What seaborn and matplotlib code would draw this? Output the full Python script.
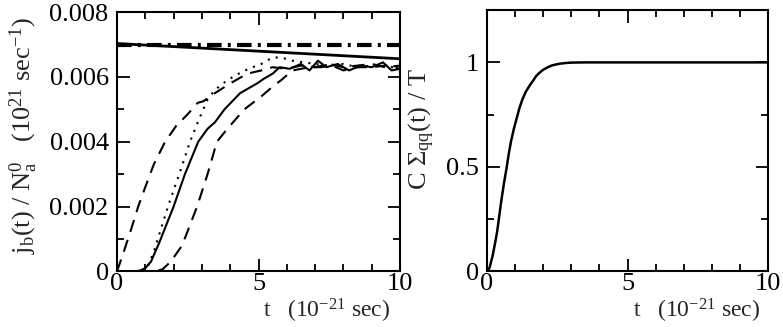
import numpy as np
import matplotlib
matplotlib.use("Agg")
import matplotlib.pyplot as plt
from matplotlib.ticker import MultipleLocator
import seaborn as sns

# left panel: j_b(t)/N_a^0, values in units of 1e-3
flat_t = [0, 10]
flat_dashdot = [7.00, 7.00]
flat_solid = [7.03, 6.56]

a_t = [0, 0.2, 0.5, 0.75, 1.0, 1.3, 1.7, 2.1, 2.5, 2.85, 3.05, 3.46, 4.0, 4.6, 5.1, 5.5, 6.0, 6.5, 7.0, 7.5, 8.0, 8.5, 9.0, 9.5, 10]
a_y = [0, 0.5, 1.3, 2.0, 2.6, 3.3, 4.0, 4.5, 4.85, 5.2, 5.25, 5.5, 5.8, 6.1, 6.2, 6.3, 6.25, 6.35, 6.3, 6.4, 6.3, 6.35, 6.4, 6.3, 6.35]

b_t = [0, 0.5, 0.8, 1.06, 1.3, 1.55, 1.8, 2.2, 2.58, 2.9, 3.2, 3.46, 3.9, 4.4, 4.8, 5.1, 5.5, 5.8, 6.2, 6.6, 7.0, 7.5, 8.0, 8.5, 9.0, 9.5, 10]
b_y = [0, 0, 0.0, 0.1, 0.6, 1.3, 2.0, 3.0, 4.0, 4.7, 5.3, 5.6, 5.9, 6.15, 6.3, 6.4, 6.6, 6.6, 6.5, 6.45, 6.4, 6.35, 6.4, 6.3, 6.35, 6.3, 6.3]

c_t = [0, 0.5, 0.8, 1.0, 1.2, 1.5, 2.0, 2.4, 2.87, 3.2, 3.46, 3.8, 4.35, 4.95, 5.2, 5.5, 5.75, 6.1, 6.5, 6.8, 7.1, 7.4, 7.8, 8.2, 8.6, 9.0, 9.4, 9.7, 10]
c_y = [0, 0, 0.02, 0.1, 0.3, 0.9, 2.0, 3.0, 4.0, 4.4, 4.6, 5.0, 5.5, 5.8, 5.95, 6.1, 6.3, 6.25, 6.4, 6.2, 6.5, 6.3, 6.4, 6.2, 6.35, 6.3, 6.45, 6.2, 6.25]

d_t = [0, 1.0, 1.3, 1.6, 1.9, 2.3, 2.83, 3.2, 3.53, 3.9, 4.5, 5.1, 5.5, 5.8, 6.2, 6.8, 7.2, 7.6, 8.0, 8.5, 9.0, 9.5, 10]
d_y = [0, 0, 0.01, 0.06, 0.3, 0.8, 2.0, 3.0, 4.0, 4.4, 5.0, 5.4, 5.7, 5.9, 6.2, 6.3, 6.3, 6.35, 6.2, 6.3, 6.3, 6.35, 6.25]

# right panel: C Sigma_qq(t) / T
r_t = [0, 0.05, 0.1, 0.15, 0.2, 0.25, 0.3, 0.36, 0.43, 0.5, 0.6, 0.69, 0.77, 0.85, 0.95, 1.05, 1.15, 1.25, 1.38, 1.52, 1.65, 1.75, 1.88, 2.0, 2.15, 2.3, 2.45, 2.6, 2.8, 3.0, 3.5, 4.0, 10]
r_y = [0, 0.006, 0.022, 0.05, 0.075, 0.11, 0.145, 0.19, 0.26, 0.33, 0.42, 0.49, 0.56, 0.62, 0.68, 0.73, 0.78, 0.82, 0.86, 0.89, 0.915, 0.935, 0.952, 0.965, 0.976, 0.985, 0.99, 0.994, 0.997, 0.999, 1.0, 1.0, 1.0]

sns.set_style("ticks")
plt.rcParams["font.family"] = ["Liberation Serif", "DejaVu Serif"]
plt.rcParams["mathtext.fontset"] = "custom"
plt.rcParams["mathtext.rm"] = "Liberation Serif"
plt.rcParams["mathtext.it"] = "Liberation Serif:italic"
fs = 19

fig = plt.figure(figsize=(7.83, 3.27), dpi=100)
ax1 = fig.add_axes([0.1494, 0.17, 0.3615, 0.793])
ax2 = fig.add_axes([0.622, 0.17, 0.359, 0.799])

k = "black"
sc = 1e-3
sns.lineplot(x=flat_t, y=np.array(flat_dashdot) * sc, ax=ax1, color=k, lw=3,
             linestyle=(0, (3.5, 1.5, 0.7, 1.5)))
sns.lineplot(x=flat_t, y=np.array(flat_solid) * sc, ax=ax1, color=k, lw=2)
sns.lineplot(x=a_t, y=np.array(a_y) * sc, ax=ax1, color=k, lw=1.5, linestyle=(0, (6, 4)))
sns.lineplot(x=b_t, y=np.array(b_y) * sc, ax=ax1, color=k, lw=1.5, linestyle=(0, (1, 3)))
sns.lineplot(x=c_t, y=np.array(c_y) * sc, ax=ax1, color=k, lw=1.5)
sns.lineplot(x=d_t, y=np.array(d_y) * sc, ax=ax1, color=k, lw=1.5, linestyle=(0, (6, 4)))

sns.lineplot(x=r_t, y=r_y, ax=ax2, color=k, lw=1.8)

ax1.set_xlim(0, 10)
ax1.set_ylim(0, 0.008)
ax1.xaxis.set_major_locator(MultipleLocator(5))
ax1.xaxis.set_minor_locator(MultipleLocator(1))
ax1.set_yticks([0, 0.002, 0.004, 0.006, 0.008])
ax1.set_yticklabels(["0", "0.002", "0.004", "0.006", "0.008"])
ax1.yaxis.set_minor_locator(MultipleLocator(0.001))

ax2.set_xlim(0, 10)
ax2.set_ylim(0, 1.25)
ax2.xaxis.set_major_locator(MultipleLocator(5))
ax2.xaxis.set_minor_locator(MultipleLocator(1))
ax2.set_yticks([0, 0.5, 1.0])
ax2.set_yticklabels(["0", "0.5", "1"])
ax2.yaxis.set_minor_locator(MultipleLocator(0.25))

for ax in (ax1, ax2):
    for s in ax.spines.values():
        s.set_linewidth(1.5)
        s.set_color(k)
    ax.tick_params(which="both", direction="in", top=True, right=True, colors=k,
                   labelsize=fs, width=1.3)
    ax.tick_params(axis="y", pad=6)
    ax.tick_params(axis="x", pad=1)
    ax.tick_params(which="major", length=9)
    ax.tick_params(which="minor", length=5)
    ax.set_xlabel(r"t   (10$^{-21}$ sec)", fontsize=17, ha="right")

ax1.xaxis.set_label_coords(0.965, -0.098)
ax2.xaxis.set_label_coords(0.972, -0.098)

ax1.set_ylabel(r"j$_\mathrm{b}$(t) / N$_\mathrm{a}^\mathrm{0}$   (10$^\mathrm{21}$ sec$^\mathrm{-1}$)",
               fontsize=fs)
ax1.yaxis.set_label_coords(-0.272, 0.523)
ax2.set_ylabel(r"C $\Sigma_\mathrm{qq}$(t) / T", fontsize=fs)
ax2.yaxis.set_label_coords(-0.178, 0.545)

fig.savefig("out.png", dpi=100)
